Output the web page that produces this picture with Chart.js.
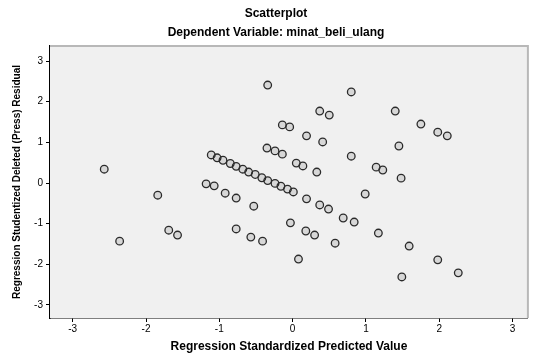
<!DOCTYPE html>
<html>
<head>
<meta charset="utf-8">
<script src="https://cdn.jsdelivr.net/npm/chart.js@4"></script>
<style>
  html, body { margin: 0; padding: 0; background: #fff; }
  #wrap { width: 533px; height: 354px; }
</style>
</head>
<body>
<div id="wrap"><canvas id="scatter-chart"></canvas></div>
<script>
// Chart texts
const chartTitle = 'Scatterplot';
const chartSubtitle = 'Dependent Variable: minat_beli_ulang';
const xTitle = 'Regression Standardized Predicted Value';
const yTitle = 'Regression Studentized Deleted (Press) Residual';

// Tick labels
const xTicks = [-3, -2, -1, 0, 1, 2, 3];
const yTicks = [-3, -2, -1, 0, 1, 2, 3];

// Standardized predicted values (x) and deleted residuals (y)
const predicted = [
    -2.57, -2.36, -1.84, -1.69, -1.57, -0.34, 0.37, 0.50, 0.80, -0.14,
    -0.04, 0.19, 0.41, 1.40, 1.75, 1.98, 2.11, 1.45, 0.80, 1.14,
    1.23, 1.48, -0.35, -0.24, -0.14, 0.05, 0.14, 0.33,
    -1.11, -1.03, -0.95, -0.85, -0.77, -0.68, -0.60, -0.51, -0.42, -0.34,
    -0.24, -0.16, -0.07, 0.01,
    -1.18, -1.07, -0.92, -0.77, -0.53, -0.77, -0.57, -0.41, -0.03, 0.08,
    0.19, 0.37, 0.49, 0.69, 0.84, 0.18, 0.30, 0.58, 0.99, 1.17,
    1.59, 1.98, 1.49, 2.26
];
const residuals = [
    0.34, -1.43, -0.30, -1.16, -1.28, 2.41, 1.77, 1.67, 2.24, 1.43,
    1.38, 1.16, 1.01, 1.77, 1.45, 1.25, 1.16, 0.91, 0.66, 0.39,
    0.32, 0.12, 0.86, 0.79, 0.71, 0.49, 0.42, 0.27,
    0.69, 0.62, 0.56, 0.48, 0.41, 0.34, 0.27, 0.21, 0.13, 0.06,
    -0.01, -0.08, -0.15, -0.22,
    -0.02, -0.07, -0.25, -0.37, -0.57, -1.13, -1.33, -1.43, -0.98, -1.87,
    -0.39, -0.54, -0.64, -0.86, -0.96, -1.18, -1.28, -1.48, -0.27, -1.23,
    -1.55, -1.89, -2.31, -2.21
];

const points = predicted.map((x, i) => ({ x: x, y: residuals[i] }));

// Plot background, frame and the two title lines
const spssFrame = {
    id: 'spssFrame',
    beforeDatasetsDraw(chart) {
        const { ctx, chartArea: a } = chart;
        ctx.save();
        ctx.fillStyle = '#f0f0f0';
        ctx.fillRect(a.left, a.top, a.right - a.left, a.bottom - a.top);
        ctx.strokeStyle = '#b8b8b8';
        ctx.lineWidth = 2;
        ctx.beginPath();
        ctx.moveTo(a.left, a.top);
        ctx.lineTo(a.right, a.top);
        ctx.lineTo(a.right, a.bottom);
        ctx.stroke();
        ctx.restore();
    },
    afterDraw(chart) {
        const { ctx } = chart;
        ctx.save();
        ctx.fillStyle = '#000';
        ctx.textAlign = 'center';
        ctx.textBaseline = 'middle';
        ctx.font = 'bold 12px "Liberation Sans", Arial, sans-serif';
        ctx.fillText(chartTitle, 276, 14);
        ctx.fillText(chartSubtitle, 276, 33);
        ctx.restore();
    }
};

const ctx = document.getElementById('scatter-chart').getContext('2d');
new Chart(ctx, {
    type: 'scatter',
    data: {
        datasets: [{
            label: 'Residuals',
            data: points,
            pointStyle: 'circle',
            pointRadius: 3.8,
            pointHoverRadius: 3.8,
            borderWidth: 1.3,
            borderColor: '#2a2a2a',
            backgroundColor: 'rgba(0, 0, 0, 0.1)'
        }]
    },
    options: {
        responsive: true,
        maintainAspectRatio: false,
        animation: false,
        layout: {
            padding: { top: 46, right: 2, bottom: 0, left: 0 }
        },
        scales: {
            x: {
                type: 'linear',
                min: -3.31,
                max: 3.21,
                afterBuildTicks: function(scale) {
                    scale.ticks = xTicks.map(v => ({ value: v }));
                },
                afterFit: function(scale) {
                    scale.height = 36;
                },
                border: { display: true, color: '#000', width: 1.5 },
                grid: { drawOnChartArea: false, drawTicks: true, tickLength: 4, color: '#000' },
                ticks: {
                    color: '#000',
                    padding: 1,
                    font: { family: '"Liberation Sans", Arial, sans-serif', size: 10 }
                },
                title: {
                    display: true,
                    text: xTitle,
                    color: '#000',
                    padding: { top: 0, bottom: 0 },
                    font: { family: '"Liberation Sans", Arial, sans-serif', size: 12, weight: 'bold' }
                }
            },
            y: {
                type: 'linear',
                min: -3.32,
                max: 3.37,
                afterBuildTicks: function(scale) {
                    scale.ticks = yTicks.map(v => ({ value: v }));
                },
                afterFit: function(scale) {
                    scale.width = 50;
                },
                border: { display: true, color: '#000', width: 1.5 },
                grid: { drawOnChartArea: false, drawTicks: true, tickLength: 4, color: '#000' },
                ticks: {
                    color: '#000',
                    padding: 3,
                    font: { family: '"Liberation Sans", Arial, sans-serif', size: 10 }
                },
                title: {
                    display: true,
                    text: yTitle,
                    color: '#000',
                    padding: { top: 11, bottom: 0 },
                    font: { family: '"Liberation Sans", Arial, sans-serif', size: 10, weight: 'bold' }
                }
            }
        },
        plugins: {
            legend: { display: false },
            tooltip: { enabled: false }
        }
    },
    plugins: [spssFrame]
});
</script>
</body>
</html>
